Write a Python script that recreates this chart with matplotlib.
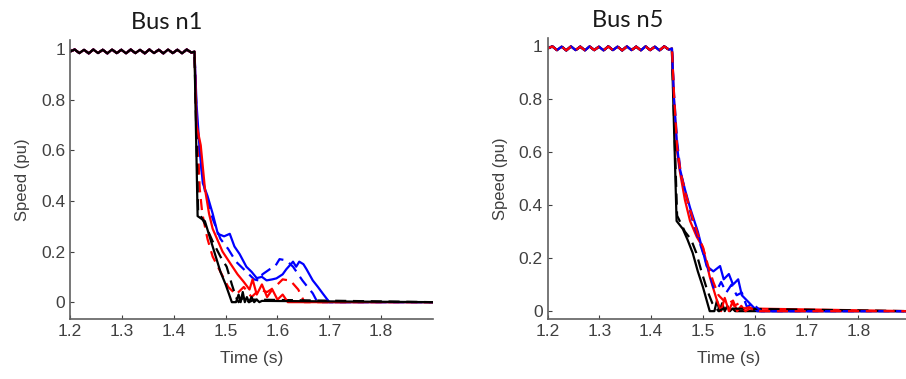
import matplotlib.pyplot as plt

# Pre-fault speed (small oscillation around 1 pu), shared by all traces
pre_t = [1.200, 1.209, 1.218, 1.227, 1.236, 1.245, 1.254, 1.263, 1.272, 1.281,
         1.290, 1.299, 1.308, 1.317, 1.326, 1.335, 1.344, 1.353, 1.362, 1.371,
         1.380, 1.389, 1.398, 1.407, 1.416, 1.425, 1.434, 1.440]
pre_v = [0.990, 0.998, 0.984, 0.997, 0.983, 0.998, 0.984, 0.997, 0.983, 0.998,
         0.984, 0.997, 0.983, 0.998, 0.984, 0.997, 0.983, 0.998, 0.984, 0.997,
         0.983, 0.998, 0.984, 0.997, 0.983, 0.998, 0.986, 0.990]

# Bus n1 traces (after the fault)
n1_blue_t = [1.444, 1.450, 1.456, 1.465, 1.475, 1.485, 1.497, 1.508, 1.517, 1.527, 1.540,
             1.550, 1.560, 1.570, 1.579, 1.590, 1.598, 1.610, 1.617, 1.630, 1.636, 1.642,
             1.650, 1.656, 1.668, 1.678, 1.687, 1.700, 1.900]
n1_blue_v = [0.78, 0.60, 0.47, 0.42, 0.35, 0.27, 0.26, 0.27, 0.22, 0.19, 0.14,
             0.12, 0.095, 0.10, 0.086, 0.09, 0.094, 0.11, 0.13, 0.16, 0.14, 0.16,
             0.15, 0.13, 0.086, 0.06, 0.035, 0.0, 0.0]
n1_blued_t = [1.444, 1.452, 1.460, 1.475, 1.490, 1.505, 1.520, 1.540, 1.555, 1.565, 1.571,
              1.585, 1.595, 1.604, 1.617, 1.630, 1.640, 1.648, 1.658, 1.668, 1.677, 1.900]
n1_blued_v = [0.72, 0.55, 0.44, 0.33, 0.25, 0.21, 0.16, 0.12, 0.09, 0.085, 0.11,
              0.13, 0.14, 0.17, 0.165, 0.14, 0.11, 0.086, 0.06, 0.035, 0.0, 0.0]
n1_red_t = [1.444, 1.452, 1.460, 1.468, 1.475, 1.494, 1.510, 1.523, 1.535, 1.546, 1.552,
            1.560, 1.570, 1.580, 1.590, 1.600, 1.610, 1.620, 1.900]
n1_red_v = [0.70, 0.62, 0.45, 0.35, 0.29, 0.20, 0.15, 0.11, 0.08, 0.05, 0.09,
            0.03, 0.07, 0.02, 0.05, 0.01, 0.03, 0.0, 0.0]
n1_redd_t = [1.443, 1.450, 1.455, 1.465, 1.475, 1.490, 1.505, 1.520, 1.535, 1.550, 1.565,
             1.580, 1.595, 1.610, 1.625, 1.640, 1.652, 1.900]
n1_redd_v = [0.80, 0.45, 0.35, 0.25, 0.18, 0.12, 0.06, 0.03, 0.06, 0.02, 0.05,
             0.04, 0.06, 0.09, 0.085, 0.05, 0.0, 0.0]
n1_black_t = [1.440, 1.446, 1.460, 1.475, 1.490, 1.500, 1.512, 1.520, 1.525, 1.529, 1.533,
              1.537, 1.541, 1.545, 1.550, 1.555, 1.560, 1.565, 1.570, 1.900]
n1_black_v = [0.98, 0.34, 0.32, 0.22, 0.12, 0.07, 0.0, 0.0, 0.03, 0.0, 0.04,
              0.0, 0.02, 0.0, 0.02, 0.0, 0.01, 0.0, 0.005, 0.0]
n1_blackd_t = [1.440, 1.447, 1.460, 1.475, 1.490, 1.502, 1.512, 1.520, 1.525, 1.535, 1.545,
               1.555, 1.900]
n1_blackd_v = [0.98, 0.36, 0.31, 0.24, 0.18, 0.14, 0.07, 0.02, 0.0, 0.02, 0.0,
               0.01, 0.0]

# Bus n5 traces (after the fault)
n5_blue_t = [1.444, 1.450, 1.455, 1.465, 1.475, 1.490, 1.507, 1.520, 1.533, 1.540, 1.550,
             1.558, 1.568, 1.575, 1.585, 1.595, 1.605, 1.900]
n5_blue_v = [0.80, 0.62, 0.54, 0.46, 0.39, 0.30, 0.17, 0.15, 0.17, 0.12, 0.14,
             0.10, 0.12, 0.06, 0.04, 0.02, 0.0, 0.0]
n5_blued_t = [1.444, 1.450, 1.457, 1.467, 1.480, 1.495, 1.510, 1.520, 1.527, 1.535, 1.545,
              1.555, 1.565, 1.575, 1.585, 1.595, 1.612, 1.900]
n5_blued_v = [0.82, 0.64, 0.52, 0.44, 0.34, 0.25, 0.16, 0.09, 0.08, 0.11, 0.07,
              0.10, 0.06, 0.07, 0.015, 0.03, 0.0, 0.0]
n5_red_t = [1.444, 1.450, 1.455, 1.465, 1.475, 1.488, 1.500, 1.513, 1.527, 1.535, 1.542,
            1.550, 1.558, 1.566, 1.574, 1.582, 1.590, 1.900]
n5_red_v = [0.80, 0.60, 0.53, 0.42, 0.34, 0.28, 0.24, 0.13, 0.04, 0.0, 0.05,
            0.0, 0.04, 0.0, 0.02, 0.0, 0.01, 0.0]
n5_redd_t = [1.444, 1.450, 1.457, 1.467, 1.480, 1.490, 1.500, 1.510, 1.520, 1.530, 1.540,
             1.550, 1.560, 1.570, 1.580, 1.590, 1.600, 1.900]
n5_redd_v = [0.82, 0.62, 0.52, 0.44, 0.35, 0.29, 0.24, 0.17, 0.11, 0.06, 0.04,
             0.05, 0.02, 0.03, 0.01, 0.015, 0.0, 0.0]
n5_black_t = [1.440, 1.449, 1.461, 1.470, 1.480, 1.490, 1.500, 1.513, 1.522, 1.527, 1.532,
              1.537, 1.542, 1.547, 1.552, 1.557, 1.562, 1.900]
n5_black_v = [0.98, 0.34, 0.31, 0.27, 0.22, 0.15, 0.09, 0.0, 0.0, 0.04, 0.0,
              0.03, 0.0, 0.02, 0.0, 0.01, 0.0, 0.0]
n5_blackd_t = [1.440, 1.450, 1.465, 1.477, 1.487, 1.497, 1.508, 1.518, 1.530, 1.540, 1.900]
n5_blackd_v = [0.98, 0.36, 0.30, 0.27, 0.22, 0.15, 0.08, 0.03, 0.0, 0.01, 0.0]

x_ticks = [1.2, 1.3, 1.4, 1.5, 1.6, 1.7, 1.8]
y_ticks = [0, 0.2, 0.4, 0.6, 0.8, 1]
y_tick_labels = ['0', '0.2', '0.4', '0.6', '0.8', '1']

panels = [
    ('Bus n1', [(n1_blued_t, n1_blued_v, 'blue', '--'), (n1_redd_t, n1_redd_v, 'red', '--'),
                (n1_blackd_t, n1_blackd_v, 'black', '--'), (n1_blue_t, n1_blue_v, 'blue', '-'),
                (n1_red_t, n1_red_v, 'red', '-'), (n1_black_t, n1_black_v, 'black', '-')]),
    ('Bus n5', [(n5_black_t, n5_black_v, 'black', '-'), (n5_red_t, n5_red_v, 'red', '-'),
                (n5_blue_t, n5_blue_v, 'blue', '-'), (n5_blackd_t, n5_blackd_v, 'black', '--'),
                (n5_blued_t, n5_blued_v, 'blue', '--'), (n5_redd_t, n5_redd_v, 'red', '--')]),
]

tick_font = ['Liberation Sans', 'DejaVu Sans']
fig = plt.figure(figsize=(9.06, 3.79), dpi=100)
axes_rects = [[0.0773, 0.158, 0.4007, 0.736], [0.6045, 0.158, 0.4000, 0.742]]
ylims = [(-0.067, 1.035), (-0.03, 1.03)]
title_pos = [(0.184, 0.94), (0.693, 0.945)]

for (title, lines), rect, ylim, tpos in zip(panels, axes_rects, ylims, title_pos):
    ax = fig.add_axes(rect)
    for t, v, c, ls in lines:
        ax.plot(pre_t + t, pre_v + v, color=c, lw=1.6,
                linestyle=(0, (5, 3)) if ls == '--' else '-')
    ax.set_xlim(1.2, 1.9)
    ax.set_ylim(*ylim)
    ax.set_xticks(x_ticks)
    ax.set_xticklabels([f'{x:.1f}' for x in x_ticks], family=tick_font, fontsize=12.5, color='#404040')
    ax.set_yticks(y_ticks)
    ax.set_yticklabels(y_tick_labels, family=tick_font, fontsize=12.5, color='#404040')
    ax.tick_params(direction='in', length=3, color='#404040', width=0.8)
    for s in ['top', 'right']:
        ax.spines[s].set_visible(False)
    for s in ['left', 'bottom']:
        ax.spines[s].set_color('#606060')
        ax.spines[s].set_linewidth(1.2)
    ax.set_xlabel('Time (s)', family=tick_font, fontsize=12.5, color='#404040', labelpad=9)
    ax.set_ylabel('Speed (pu)', family=tick_font, fontsize=12, color='#404040', labelpad=8)
    fig.text(tpos[0], tpos[1], title, family=['Lato', 'DejaVu Sans'], fontsize=17,
             ha='center', va='center', color='#1a1a1a')

fig.savefig('out.png', dpi=100)
